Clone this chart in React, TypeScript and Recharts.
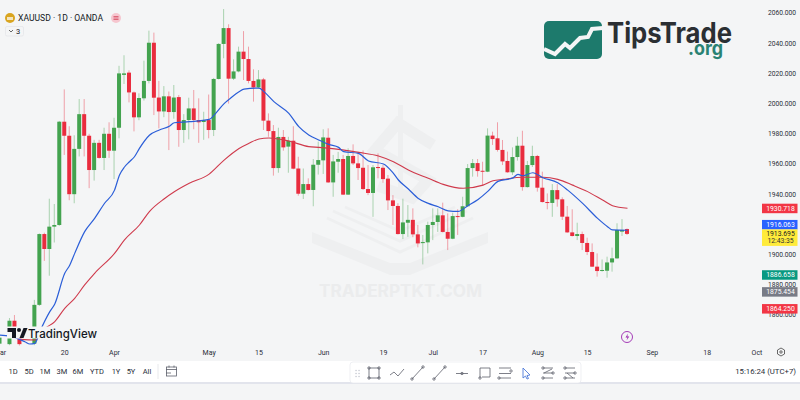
import { Bar, ComposedChart, Line, ReferenceLine, XAxis, YAxis } from 'recharts';

const FONT = 'Roboto, sans-serif';

// open / high / low / close per trading day, null where nothing can be read
const opens = [
  1841, null, 1840.7, 1856.2, 1845.4, 1846, 1849, 1841, 1866.7, 1913.6, 1903.7, 1918.5, 1919.6, 1988, 1978.7, 1940,
  1970, 1993, 1978.7, 1956, 1974, 1964, 1980, 1968.8, 1984, 2019, 2020.5, 2007.4, 1990.9, 2003.5, 2015, 2040.3,
  2004, 1994.8, 2004.8, 1994.4, 2004.3, 1982.5, 1989.1, 1996.8, 1989.1, 1987.8, 1989.1, 1982.5, 2016.3, 2039.5, 2050, 2016.5,
  2021.3, 2034.4, 2029.5, 2015, 2010.7, 2016, 1988.7, 1981.8, 1957.3, 1977.9, 1971.5, 1975.4, 1957, 1940.3, 1946.7, 1942.8,
  1959.5, 1962.4, 1977.4, 1947.8, 1961.5, 1963.3, 1939.7, 1965.3, 1960.4, 1957.5, 1943.4, 1940.8, 1958, 1957.5, 1950.3, 1935.9,
  1932.2, 1913.6, 1921.1, 1923, 1913.4, 1907.6, 1908.1, 1919.6, 1921.6, 1926, 1915, 1910.5, 1925.5, 1925, 1932, 1957.3,
  1960.6, 1955.5, 1954.9, 1978.8, 1977, 1969.3, 1962, 1954.5, 1964.6, 1972.1, 1944.7, 1959.3, 1965.3, 1944.3, 1934.8, 1934.2,
  1942.7, 1936.6, 1925.1, 1914.7, 1912.3, 1913.6, 1907.7, 1901.7, 1892, 1889.3, 1889.3, 1894.8, 1897.5, 1915.2, 1916.9,
];
const highs = [
  1846, null, 1858, 1860, 1848, 1848, 1850, 1870, 1914, 1914.5, 1937, 1933.5, 1988.5, 2009.4, 1985, 1979,
  2003, 2003, 1980, 1976, 1976, 1984, 1987.6, 1990.6, 2025, 2032, 2022, 2008, 2006.8, 2028.4, 2048.3, 2047,
  2015, 2011.6, 2008, 2012.3, 2005.7, 1993, 2003.9, 2009, 2003.5, 1994.6, 2006, 2017, 2040, 2062.6, 2052.5, 2029.3,
  2037.7, 2048, 2037.7, 2022.7, 2022.2, 2017, 1993.5, 1985.8, 1984, 1982.5, 1978, 1985, 1964.8, 1957, 1950.5, 1963.3,
  1974.8, 1983, 1983.6, 1966, 1968, 1966, 1970.4, 1973, 1968.2, 1969, 1959.3, 1959.3, 1967, 1959.3, 1952.7, 1939.4,
  1934, 1937, 1932.8, 1930.6, 1919.6, 1913, 1921.8, 1930.6, 1930.6, 1934.4, 1927.3, 1927.7, 1930, 1938.3, 1960, 1963.3,
  1963.3, 1961.5, 1983.6, 1981.4, 1987.6, 1975.9, 1968.2, 1971, 1978, 1982, 1962, 1972.1, 1966, 1954.9, 1940.5, 1946.7,
  1946.7, 1937.9, 1932.2, 1930, 1921.1, 1915.2, 1911.2, 1907.4, 1900.8, 1896.8, 1898.6, 1904.6, 1920.7, 1923.5, 1917.3,
];
const lows = [
  1839, null, 1840, 1848, 1839.8, 1845, 1846, 1840, 1866, 1895.8, 1886, 1908, 1919, 1966, 1936, 1934,
  1965, 1965, 1944, 1949, 1963.5, 1956, 1964, 1950, 1977, 2013, 2000.8, 1981.6, 1989, 2002, 2013.4, 1992.4,
  1983.6, 1991, 1969.2, 1990, 1971.4, 1974, 1976.3, 1983, 1974, 1976, 1977, 1978.5, 2016, 2030, 2000, 2015.6,
  2020.7, 2015.6, 2013.4, 2001.3, 2010, 1982.5, 1978, 1952.3, 1954.2, 1968.8, 1954.2, 1956.5, 1939, 1936.8, 1942.5, 1932,
  1953, 1953.4, 1947.5, 1938.3, 1954.2, 1939.5, 1939.5, 1959.3, 1949.4, 1942.8, 1939.4, 1925, 1950.5, 1947.6, 1929.5, 1919.6,
  1913.3, 1910.3, 1911.8, 1911.5, 1904.8, 1893.5, 1900.8, 1909.6, 1915, 1914.7, 1903, 1910.2, 1913, 1924.7, 1931.8, 1951.6,
  1951.6, 1946, 1954.6, 1972.6, 1968.2, 1959.3, 1954.2, 1952.7, 1962.2, 1942.3, 1944.4, 1958, 1941.7, 1934.5, 1930, 1925,
  1931.7, 1922.9, 1914.4, 1912, 1909.6, 1903, 1899.7, 1891.8, 1885.4, 1888.7, 1884.7, 1888.7, 1897.2, 1912.3, 1913,
];
const closes = [
  1845, null, 1856.2, 1848, 1840.7, 1848, 1847, 1866.7, 1913.6, 1903.7, 1918.5, 1919.6, 1988, 1978.7, 1940, 1970,
  1993, 1978.7, 1956, 1974, 1964, 1980, 1968.8, 1984, 2020, 2020, 2007.4, 1990.9, 2003.7, 2015, 2040.3, 2003.9,
  1994.8, 2004.8, 1994.4, 2004, 1982.5, 1989.1, 1996.8, 1989.1, 1987.6, 1989, 1982.5, 2016.3, 2039.5, 2050, 2016.5, 2021.3,
  2034.4, 2029.5, 2015, 2010.7, 2016, 1988.7, 1981.8, 1957.3, 1977.9, 1971, 1975.4, 1956.9, 1940.3, 1946.7, 1942.8, 1959.5,
  1962.6, 1977.6, 1947.8, 1961.7, 1963.3, 1939.7, 1965.3, 1960.4, 1957.3, 1943.4, 1940.8, 1957.8, 1957.3, 1950, 1935.9, 1932.2,
  1913.6, 1921.3, 1923, 1913.4, 1907.4, 1908.3, 1919.6, 1921.6, 1926, 1915, 1910.5, 1925.5, 1925, 1932, 1957.3, 1960.6,
  1955.3, 1954.9, 1978.8, 1976.5, 1969.3, 1961.7, 1954.5, 1964.6, 1972.1, 1944.7, 1959.3, 1965.3, 1944.3, 1934.8, 1934.2, 1942.7,
  1936.6, 1925.1, 1914.7, 1912.3, 1913.6, 1907.7, 1901.7, 1892, 1889.1, 1889.8, 1894.8, 1897.5, 1916.3, 1916.3, 1913.7,
];

const blueSlots = [0, 2, 5, 6, 7, 8, 10, 11, 13, 14, 15, 17, 19, 21, 23, 24, 25, 26, 27, 28, 30, 32, 34, 35, 38, 42, 43, 45, 46, 48, 49, 52, 53, 55, 58, 60, 62, 64, 66, 68, 69, 72, 74, 77, 79, 80, 82, 84, 86, 88, 90, 92, 94, 96, 98, 100, 103, 104, 105, 107, 109, 112, 114, 117, 120, 122, 123, 126];
const blueValues = [1846.7, 1846, 1842.3, 1840.8, 1841.2, 1849, 1862.2, 1867.3, 1887.6, 1893, 1900.8, 1915.2, 1924, 1934, 1942.7, 1952.7, 1958, 1961.5, 1964.8, 1970.3, 1979, 1982.5, 1985, 1987.3, 1988, 1989.5, 1992.4, 2000, 2002.8, 2007.9, 2009.6, 2010.3, 2007.9, 2001.3, 1993.5, 1984.7, 1979.2, 1975.9, 1973, 1971, 1968.2, 1967, 1962, 1960, 1953.8, 1949.4, 1943.4, 1937.2, 1933.9, 1931.7, 1929, 1928.6, 1932.5, 1936.5, 1942, 1948.5, 1950.8, 1953.1, 1952.2, 1954.2, 1950.9, 1947.6, 1942.7, 1933.9, 1924, 1918.5, 1916.3, 1916.1];
const redSlots = [4, 7, 9, 11, 13, 15, 17, 19, 23, 25, 28, 30, 33, 35, 38, 42, 45, 48, 50, 52, 54, 58, 62, 64, 68, 72, 76, 79, 82, 86, 89, 93, 97, 99, 101, 105, 109, 112, 115, 118, 121, 123, 126];
const redValues = [1844, 1843.4, 1851, 1855.6, 1864.4, 1871, 1879.9, 1887.6, 1900.8, 1909.7, 1919.6, 1928.5, 1937, 1941.6, 1947.2, 1953.3, 1962.6, 1970.3, 1973.7, 1976.5, 1977.2, 1975.2, 1971.5, 1971, 1969.7, 1967.7, 1965.3, 1961.5, 1956, 1950.5, 1946.5, 1943.9, 1946, 1948.9, 1949.8, 1951.2, 1951.2, 1949.8, 1946, 1941.7, 1936.1, 1932.4, 1930.7];

const priceTicks = [1860, 1880, 1900, 1920, 1940, 1960, 1980, 2000, 2020, 2040, 2060];
const timeTickSlots = [0, 13, 23, 42, 52, 65, 77, 87, 97, 108, 118, 131, 142, 152];
const timeTickLabels = ['Mar', '20', 'Apr', 'May', '15', 'Jun', '19', 'Jul', '17', 'Aug', '15', 'Sep', '18', 'Oct'];

const tagValues = [1930.718, 1916.063, 1913.695, 1886.658, 1875.454, 1864.25];
const tagColors = ['#f23645', '#2962ff', '#ffeb3b', '#089981', '#787b86', '#f23645'];
// the price scale pushes the blue tag up so it clears the countdown tag
const tagNudges = [0, -5.9, 0, 0, 0, 0];
const rangeButtons = ['1D', '5D', '1M', '3M', '6M', 'YTD', '1Y', '5Y', 'All'];
const rangeButtonX = [13, 29, 45, 62, 78, 97, 116, 131, 147];

const SLOT_COUNT = 153;

const rows = Array.from({ length: SLOT_COUNT }, (_, slot) => {
  const blueAt = blueSlots.indexOf(slot);
  const redAt = redSlots.indexOf(slot);
  return {
    slot,
    open: opens[slot] ?? null,
    high: highs[slot] ?? null,
    low: lows[slot] ?? null,
    close: closes[slot] ?? null,
    blue: blueAt >= 0 ? blueValues[blueAt] : null,
    red: redAt >= 0 ? redValues[redAt] : null,
  };
});

function Candle(props: any) {
  const { x, y, width, height, payload } = props;
  if (payload.high == null || !height) return null;
  const { open, high, low, close } = payload;
  const up = close >= open;
  const perUnit = height / (high - low);
  const top = y + (high - Math.max(open, close)) * perUnit;
  const bodyHeight = Math.max(Math.abs(close - open) * perUnit, 1);
  const color = up ? '#43a34f' : '#e92c3e';
  return (
    <g>
      <line x1={x + width / 2} x2={x + width / 2} y1={y} y2={y + height} stroke={color} strokeOpacity={0.42} />
      <rect x={x} y={top} width={width} height={bodyHeight} fill={color} />
    </g>
  );
}

function PriceTag(props: any) {
  const { viewBox, value, color, nudge } = props;
  const y = viewBox.y + nudge;
  const isCountdown = color === '#ffeb3b';
  return (
    <g>
      <rect x={762} y={y - 4.5} width={35.5} height={isCountdown ? 16.5 : 9.5} fill={color} />
      <text x={780.5} y={y + 2.5} textAnchor="middle" fontSize={6.8} fontFamily={FONT} fill={isCountdown ? '#222' : '#fff'}>
        {value.toFixed(3)}
      </text>
      {isCountdown && (
        <text x={780.5} y={y + 9.5} textAnchor="middle" fontSize={6.8} fontFamily={FONT} fill="#333">
          12:43:35
        </text>
      )}
    </g>
  );
}

function Watermark() {
  const c = '#eeeff0';
  return (
    <svg width={800} height={400} style={{ position: 'absolute', left: 0, top: 0 }}>
      <rect x={398} y={105} width={5} height={90} fill={c} />
      <path d="M433 145 L398 123 L375 150 L428 180 L412 198 L378 186" fill="none" stroke={c} strokeWidth={11} />
      <path d="M312 232 L312 243 L390 275 L410 275 L488 243 L488 232 L410 263 L390 263 Z" fill={c} />
      <path d="M327 218 L400 252 L473 218 M333 211 L400 241 L467 211 M345 207 L400 231 L455 207" fill="none" stroke={c} strokeWidth={3} />
      <text x={319} y={297} fontSize={17} fontWeight={700} fontFamily="Inter, sans-serif" fill="#ebeced" textLength={163} lengthAdjust="spacingAndGlyphs">
        TRADERPTKT.COM
      </text>
    </svg>
  );
}

function Overlay() {
  const stroke = '#5d606b';
  return (
    <svg width={800} height={400} style={{ position: 'absolute', left: 0, top: 0 }} fontFamily={FONT}>
      {/* legend */}
      <circle cx={10} cy={18} r={5} fill="#d9a520" />
      <rect x={7} y={17} width={6} height={3} fill="#fff" opacity={0.7} />
      <text x={18} y={21} fontSize={8.6} fill="#131722">XAUUSD · 1D · OANDA</text>
      <circle cx={116} cy={18} r={5} fill="#f6c6cf" />
      <path d="M113.5 16.5h5M113.5 18h5M113.5 19.5h5" stroke="#d23c55" strokeWidth={0.7} />
      <rect x={5.5} y={26.5} width={18} height={9.5} rx={1.5} fill="none" stroke="#e8e9ec" />
      <path d="M9 30l2 2 2-2" fill="none" stroke="#444" strokeWidth={0.8} />
      <text x={16} y={34} fontSize={7.5} fill="#131722">3</text>

      {/* site logo */}
      <rect x={544} y={21} width={58} height={38} rx={5} fill="#1d7a6c" />
      <path d="M544 49 L555 54 L565 44 L570 48 L580 38 L588 37 L592 29 L603 28" fill="none" stroke="#f4f5f6" strokeWidth={4} />
      <text x={607} y={43} fontSize={28} fontWeight={700} fontFamily="Inter, sans-serif" fill="#2b2f33" textLength={125} lengthAdjust="spacingAndGlyphs">
        TipsTrade
      </text>
      <text x={688} y={55} fontSize={20} fontWeight={700} fontFamily="Inter, sans-serif" fill="#2a8273" textLength={35} lengthAdjust="spacingAndGlyphs">
        .org
      </text>

      {/* TradingView mark */}
      <rect x={7} y={326.5} width={91} height={12} fill="#f4f5f6" />
      <path d="M7.5 328h8.5v10h-4v-6h-4.500z" fill="#131722" />
      <circle cx={19} cy={330} r={2} fill="#131722" />
      <path d="M19.500 338l4-10h4l-4 10z" fill="#131722" />
      <text x={28} y={337.500} fontSize={12} fontWeight={500} fontFamily="Inter, sans-serif" fill="#131722" textLength={69} lengthAdjust="spacingAndGlyphs">
        TradingView
      </text>

      {/* chart corner icons */}
      <circle cx={627} cy={337} r={5.5} fill="none" stroke="#9c27b0" strokeWidth={0.9} />
      <path d="M628 333.500l-2.500 4h2l-1 3 2.800-4h-2z" fill="#9c27b0" />
      <path d="M781 348l3.500 2v4l-3.500 2-3.500-2v-4z" fill="none" stroke="#444" strokeWidth={0.8} />
      <circle cx={781} cy={352} r={1.200} fill="none" stroke="#444" strokeWidth={0.8} />

      {/* bottom bar */}
      <rect x={0} y={361} width={800} height={21} fill="#fff" />
      <rect x={0} y={382} width={800} height={2} fill="#e2e4ec" />
      {rangeButtons.map((label, idx) => (
        <text key={label} x={rangeButtonX[idx]} y={374} fontSize={7.500} textAnchor="middle" fill="#2a2e39">
          {label}
        </text>
      ))}
      <line x1={158} x2={158} y1={364} y2={379} stroke="#e8e9ec" />
      <rect x={166.500} y={367} width={10} height={9} fill="none" stroke={stroke} strokeWidth={0.8} />
      <path d="M166 369.500h11M169 365.500v2M174 365.500v2M166 373h5" stroke={stroke} strokeWidth={0.8} />
      <text x={796} y={374} fontSize={7.800} textAnchor="end" fill="#2a2e39">15:16:24 (UTC+7)</text>

      {/* floating drawing toolbar */}
      <rect x={350} y={362} width={231} height={21} rx={3} fill="#fff" stroke="#e8e9ee" strokeWidth={0.7} />
      <path d="M356 370.500h.1M359 370.500h.1M356 373.500h.1M359 373.500h.1M356 376.500h.1M359 376.500h.1" stroke="#c4c7cf" strokeWidth={1.400} strokeLinecap="round" />
      <g fill="none" stroke={stroke} strokeWidth={0.8}>
        <rect x={369} y={368} width={10} height={10} />
        <circle cx={369} cy={368} r={1.200} />
        <circle cx={379} cy={368} r={1.200} />
        <circle cx={369} cy={378} r={1.200} />
        <circle cx={379} cy={378} r={1.200} />
        <path d="M390 375 L394 372 L398 376 L404 369" />
        <path d="M412 379 L423 367" />
        <circle cx={412} cy={379} r={1.200} />
        <circle cx={423} cy={367} r={1.200} />
        <path d="M434 379 L445 367" />
        <circle cx={434} cy={379} r={1.200} />
        <circle cx={445} cy={367} r={1.200} />
        <path d="M456 373.500h12" />
        <circle cx={462} cy={373.500} r={1.200} />
        <path d="M480 378v-10h10v9h-8" />
        <circle cx={480} cy={378} r={1.200} />
        <path d="M499 368h12M499 373.500h12M499 378h12" />
        <circle cx={511} cy={371} r={1.200} />
        <circle cx={499} cy={378} r={1.200} />
        <path d="M543 368h10M543 373h10M543 378h10M544 373L552 369" />
        <circle cx={543} cy={368} r={1.200} />
        <circle cx={553} cy={373} r={1.200} />
        <circle cx={543} cy={378} r={1.200} />
        <path d="M565 368h10M565 373h10M565 378h10M567 373L573 378" />
        <circle cx={565} cy={368} r={1.200} />
        <circle cx={575} cy={373} r={1.200} />
        <circle cx={565} cy={378} r={1.200} />
      </g>
      <path d="M523 368l7 7-3 .5 1.500 3-1.500 .5-1.500-3-2.500 2z" fill="none" stroke="#4f7bd9" strokeWidth={0.9} />
    </svg>
  );
}

export default function App() {
  return (
    <div style={{ position: 'absolute', left: 0, top: 0, width: 800, height: 400, overflow: 'hidden', background: '#f4f5f6' }}>
      <Watermark />
      <div style={{ position: 'absolute', left: 0, top: 0 }}>
        <ComposedChart width={800} height={361} data={rows} margin={{ top: 0, right: 0.55, bottom: 0, left: -2.49 }}>
          <XAxis
            dataKey="slot"
            height={15}
            ticks={timeTickSlots}
            interval={0}
            axisLine={false}
            tickLine={false}
            tickMargin={0}
            tick={{ fontSize: 7, fontFamily: FONT, fill: '#2a2e39', dy: -2 }}
            tickFormatter={(slot: number) => timeTickLabels[timeTickSlots.indexOf(slot)]}
          />
          <YAxis
            orientation="right"
            width={40}
            domain={[1839.46, 2068.6]}
            allowDataOverflow
            ticks={priceTicks}
            interval={0}
            axisLine={false}
            tickLine={false}
            tickMargin={2.5}
            tick={{ fontSize: 6.7, fontFamily: FONT, fill: '#2a2e39', textAnchor: 'start' }}
            tickFormatter={(value: number) => value.toFixed(3)}
          />
          <Bar
            dataKey={(row: any) => (row.high == null ? null : [row.low, row.high])}
            barSize={4}
            shape={Candle}
            isAnimationActive={false}
          />
          <Line dataKey="red" type="monotone" stroke="#cf3a4c" strokeWidth={1.1} dot={false} connectNulls isAnimationActive={false} />
          <Line dataKey="blue" type="monotone" stroke="#2b5ed8" strokeWidth={1.2} dot={false} connectNulls isAnimationActive={false} />
          {tagValues.map((value, idx) => (
            <ReferenceLine
              key={value}
              y={value}
              stroke="none"
              zIndex={2000}
              label={<PriceTag value={value} color={tagColors[idx]} nudge={tagNudges[idx]} />}
            />
          ))}
        </ComposedChart>
      </div>
      <Overlay />
    </div>
  );
}
